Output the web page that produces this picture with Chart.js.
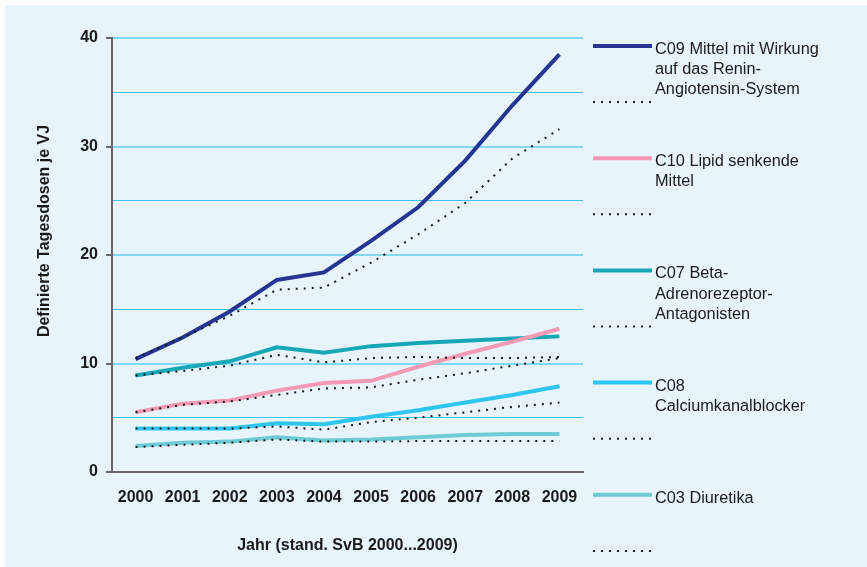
<!DOCTYPE html>
<html>
<head>
<meta charset="utf-8">
<script src="https://cdn.jsdelivr.net/npm/chart.js@4.4.1/dist/chart.umd.min.js"></script>
<style>
  html, body { margin: 0; padding: 0; background: #ffffff; }
  #wrap { width: 867px; height: 567px; position: relative; }
</style>
</head>
<body>
<div id="wrap"><canvas id="c" width="867" height="567"></canvas></div>
<script>
const years = ['2000','2001','2002','2003','2004','2005','2006','2007','2008','2009'];
const yMajorTicks = [0, 10, 20, 30, 40];
const yTitle = 'Definierte Tagesdosen je VJ';
const xTitle = 'Jahr (stand. SvB 2000...2009)';

const c09 = [10.4, 12.4, 14.8, 17.7, 18.4, 21.3, 24.4, 28.7, 33.8, 38.5];
const c09Std = [10.5, 12.4, 14.4, 16.8, 17.0, 19.3, 21.9, 24.8, 28.9, 31.6];
const c10 = [5.5, 6.3, 6.6, 7.5, 8.2, 8.4, 9.7, 10.9, 12.0, 13.2];
const c10Std = [5.5, 6.2, 6.5, 7.1, 7.7, 7.8, 8.5, 9.1, 9.8, 10.5];
const c07 = [8.9, 9.6, 10.2, 11.5, 11.0, 11.6, 11.9, 12.1, 12.3, 12.5];
const c07Std = [8.9, 9.3, 9.8, 10.8, 10.1, 10.5, 10.6, 10.5, 10.5, 10.6];
const c08 = [4.0, 4.0, 4.0, 4.5, 4.4, 5.1, 5.7, 6.4, 7.1, 7.9];
const c08Std = [4.0, 4.0, 4.0, 4.2, 3.9, 4.6, 5.0, 5.5, 6.0, 6.4];
const c03 = [2.4, 2.7, 2.8, 3.2, 2.9, 3.0, 3.2, 3.4, 3.5, 3.5];
const c03Std = [2.3, 2.5, 2.7, 3.0, 2.8, 2.8, 2.85, 2.85, 2.85, 2.85];

const seriesLabels = [
  ['C09 Mittel mit Wirkung', 'auf das Renin-', 'Angiotensin-System'],
  ['C10 Lipid senkende', 'Mittel'],
  ['C07 Beta-', 'Adrenorezeptor-', 'Antagonisten'],
  ['C08', 'Calciumkanalblocker'],
  ['C03 Diuretika']
];
const seriesColors = ['#263591', '#f49ab3', '#17a7b6', '#2ec5f0', '#6ecbd4'];
const seriesValues = [c09, c10, c07, c08, c03];
const seriesStd = [c09Std, c10Std, c07Std, c08Std, c03Std];

const FONT = "'Liberation Sans', Arial, sans-serif";
const DOT_COLOR = '#1a1a1a';

const datasets = [];
seriesValues.forEach((vals, i) => {
  datasets.push({
    label: seriesLabels[i].join(' '),
    data: vals,
    borderColor: seriesColors[i],
    backgroundColor: seriesColors[i],
    borderWidth: 4,
    pointRadius: 0,
    tension: 0,
    order: 2
  });
  datasets.push({
    label: seriesLabels[i].join(' ') + ' (stand.)',
    data: seriesStd[i],
    borderColor: DOT_COLOR,
    backgroundColor: DOT_COLOR,
    borderWidth: 2,
    borderDash: [2, 6],
    pointRadius: 0,
    tension: 0,
    order: 1
  });
});

const bgPlugin = {
  id: 'bg',
  beforeDraw(chart) {
    const ctx = chart.ctx;
    ctx.save();
    ctx.fillStyle = '#e8f4fb';
    ctx.fillRect(5, 5, chart.width - 5, chart.height - 5);
    ctx.restore();
  }
};

const yTitlePlugin = {
  id: 'yTitle',
  afterDraw(chart) {
    const ctx = chart.ctx;
    ctx.save();
    ctx.translate(45, 231);
    ctx.rotate(-Math.PI / 2);
    ctx.fillStyle = '#1a1a1a';
    ctx.font = 'bold 16px ' + FONT;
    ctx.textAlign = 'center';
    ctx.textBaseline = 'middle';
    ctx.fillText(yTitle, 0, 0);
    ctx.restore();
  }
};

const legendPlugin = {
  id: 'sideLegend',
  afterDraw(chart) {
    const ctx = chart.ctx;
    const x0 = 593, x1 = 652, tx = 655;
    const firstY = 46, step = 56.1, lineH = 20.2;
    ctx.save();
    chart.data.datasets.forEach((ds, k) => {
      const y = firstY + k * step;
      ctx.beginPath();
      ctx.strokeStyle = ds.borderColor;
      ctx.lineWidth = ds.borderWidth;
      ctx.setLineDash(ds.borderDash || []);
      ctx.moveTo(x0, y);
      ctx.lineTo(x1, y);
      ctx.stroke();
      ctx.setLineDash([]);
      if (k % 2 === 0) {
        const lines = seriesLabels[k / 2];
        ctx.fillStyle = '#1a1a1a';
        ctx.font = '16.3px ' + FONT;
        ctx.textAlign = 'left';
        ctx.textBaseline = 'alphabetic';
        lines.forEach((t, j) => ctx.fillText(t, tx, y + 8 + j * lineH));
      }
    });
    ctx.restore();
  }
};

new Chart(document.getElementById('c'), {
  type: 'line',
  data: { labels: years, datasets },
  plugins: [bgPlugin, yTitlePlugin, legendPlugin],
  options: {
    responsive: false,
    animation: false,
    layout: { padding: { left: 5, top: 38, right: 284, bottom: 0 } },
    plugins: { legend: { display: false }, tooltip: { enabled: false } },
    scales: {
      x: {
        type: 'category',
        offset: true,
        grid: { display: true, color: 'transparent', drawTicks: false },
        border: { display: true, color: '#666666', width: 2 },
        ticks: {
          color: '#1a1a1a',
          font: { family: FONT, size: 16, weight: 'bold' },
          padding: 16,
          maxRotation: 0,
          autoSkip: false
        },
        title: {
          display: true,
          text: xTitle,
          color: '#1a1a1a',
          font: { family: FONT, size: 16, weight: 'bold' },
          padding: { top: 0, bottom: 12 }
        },
        afterFit(scale) { scale.height = 95; }
      },
      y: {
        min: 0,
        max: 40,
        grid: {
          color: (c) => c.tick.value === 0 ? 'transparent' : (c.tick.value % 10 === 0 ? '#82d8f2' : '#3cc3ec'),
          lineWidth: (c) => c.tick.value % 10 === 0 ? 2 : 1,
          tickColor: (c) => c.tick.value % 10 === 0 ? '#666666' : 'transparent',
          tickWidth: 2,
          tickLength: 6,
          drawTicks: true
        },
        border: { display: true, color: '#666666', width: 2 },
        ticks: {
          stepSize: 5,
          color: '#1a1a1a',
          font: { family: FONT, size: 16, weight: 'bold' },
          padding: 8,
          callback: (v) => yMajorTicks.includes(v) ? String(v) : ''
        },
        title: { display: false },
        afterFit(scale) { scale.width = 107; }
      }
    }
  }
});
</script>
</body>
</html>
